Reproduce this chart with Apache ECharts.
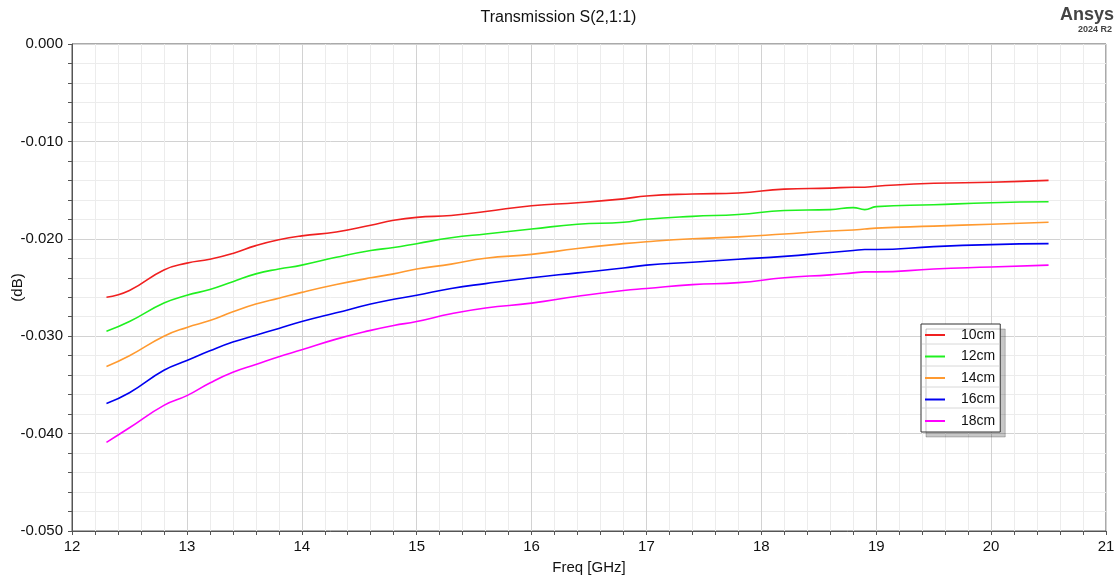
<!DOCTYPE html>
<html>
<head>
<meta charset="utf-8">
<script src="https://cdn.jsdelivr.net/npm/echarts@6/dist/echarts.min.js"></script>
<style>
  html, body { margin: 0; padding: 0; background: #fff; }
  #chart { width: 1117px; height: 578px; }
</style>
</head>
<body>
<div id="chart"></div>
<script>
// frequency points (GHz)
const freq = [12.3, 12.5, 12.8, 13.0, 13.2, 13.4, 13.6, 13.8, 14.0, 14.3, 14.6, 14.8, 15.0, 15.3, 15.6,
  16.0, 16.4, 16.8, 17.0, 17.4, 17.8, 18.2, 18.6, 18.8, 18.9, 19.0, 19.5, 20.0, 20.5]

const s10cm = [-0.0260, -0.0253, -0.0232, -0.0225, -0.0221, -0.0215, -0.0207, -0.0201, -0.0197, -0.0193, -0.0186, -0.0181, -0.0178, -0.0176, -0.0172,
  -0.0166, -0.0163, -0.0159, -0.0156, -0.0154, -0.0153, -0.0149, -0.0148, -0.0147, -0.0147, -0.0146, -0.0143, -0.0142, -0.0140]
const s12cm = [-0.0295, -0.0285, -0.0266, -0.0258, -0.0252, -0.0244, -0.0236, -0.0231, -0.0227, -0.0219, -0.0212, -0.0209, -0.0205, -0.0199, -0.0195,
  -0.0190, -0.0185, -0.0183, -0.0180, -0.0177, -0.0175, -0.0171, -0.0170, -0.0168, -0.0170, -0.0167, -0.0165, -0.0163, -0.0162]
const s14cm = [-0.0331, -0.0320, -0.0300, -0.0291, -0.0284, -0.0275, -0.0267, -0.0261, -0.0255, -0.0247, -0.0240, -0.0236, -0.0231, -0.0226, -0.0220,
  -0.0216, -0.0210, -0.0205, -0.0203, -0.0200, -0.0198, -0.0195, -0.0192, -0.0191, -0.0190, -0.0189, -0.0187, -0.0185, -0.0183]
const s16cm = [-0.0369, -0.0358, -0.0335, -0.0325, -0.0315, -0.0306, -0.0299, -0.0292, -0.0285, -0.0276, -0.0267, -0.0262, -0.0258, -0.0251, -0.0246,
  -0.0240, -0.0235, -0.0230, -0.0227, -0.0224, -0.0221, -0.0218, -0.0214, -0.0212, -0.0211, -0.0211, -0.0208, -0.0206, -0.0205]
const s18cm = [-0.0409, -0.0394, -0.0371, -0.0361, -0.0348, -0.0337, -0.0329, -0.0321, -0.0314, -0.0303, -0.0294, -0.0289, -0.0285, -0.0277, -0.0271,
  -0.0266, -0.0259, -0.0253, -0.0251, -0.0247, -0.0245, -0.0240, -0.0237, -0.0235, -0.0234, -0.0234, -0.0231, -0.0229, -0.0227]

const names = ['10cm', '12cm', '14cm', '16cm', '18cm']
const values = [s10cm, s12cm, s14cm, s16cm, s18cm]
const colors = ['#f02020', '#20f020', '#ff9a30', '#0000f0', '#ff00ff']

const font = '"Liberation Sans", Arial, sans-serif'
const chart = echarts.init(document.getElementById('chart'))

const series = names.map(function (n, i) {
  return {
    name: n,
    type: 'line',
    smooth: 0.5,
    symbol: 'none',
    lineStyle: { color: colors[i], width: 1.6 },
    itemStyle: { color: colors[i] },
    data: freq.map(function (f, j) { return [f, values[i][j]] })
  }
})

// separators between legend rows
const sepLines = [344, 366, 387, 408].map(function (y) {
  return {
    type: 'line',
    shape: { x1: 922, y1: y, x2: 999, y2: y },
    style: { stroke: '#d8d8d8', lineWidth: 1 },
    z: 120
  }
})

const axisCommon = {
  axisTick: { show: true, inside: false, length: 4, lineStyle: { color: '#555' } },
  minorTick: { show: true, splitNumber: 5, length: 4, lineStyle: { color: '#555' } },
  splitLine: { show: true, lineStyle: { color: '#d2d2d2', width: 1 } },
  minorSplitLine: { show: true, lineStyle: { color: '#ececec', width: 1 } }
}

const option = {
  animation: false,
  backgroundColor: '#fff',
  textStyle: { fontFamily: font },
  title: {
    text: 'Transmission S(2,1:1)',
    left: 'center',
    top: 5,
    textStyle: { fontSize: 16, fontWeight: 'normal', color: '#111', fontFamily: font }
  },
  grid: {
    left: 72, right: 11, top: 44, bottom: 47,
    outerBoundsMode: 'none',
    containLabel: false,
    show: true, borderColor: '#555', borderWidth: 1, backgroundColor: '#fff'
  },
  legend: {
    orient: 'vertical',
    left: 921,
    top: 324,
    padding: [4, 5, 4, 4],
    itemWidth: 20,
    itemHeight: 14,
    itemGap: 7.5,
    backgroundColor: '#fff',
    borderColor: '#333',
    borderWidth: 1,
    borderRadius: 0,
    shadowColor: 'rgba(0,0,0,0.22)',
    shadowBlur: 0,
    shadowOffsetX: 5,
    shadowOffsetY: 5,
    icon: 'path://M0,0 L20,0 L20,2 L0,2 Z',
    textStyle: { fontSize: 14, color: '#111', fontFamily: font, padding: [0, 0, 0, 11] },
    data: names
  },
  xAxis: Object.assign({
    type: 'value',
    min: 12, max: 21, interval: 1,
    name: 'Freq [GHz]',
    nameLocation: 'middle',
    nameGap: 29,
    nameMoveOverlap: false,
    nameTextStyle: { fontSize: 15, color: '#111', fontFamily: font },
    axisLine: { show: true, onZero: false, lineStyle: { color: '#555' } },
    axisLabel: { fontSize: 15, color: '#111', margin: 8, fontFamily: font }
  }, axisCommon),
  yAxis: Object.assign({
    type: 'value',
    min: -0.05, max: 0, interval: 0.01,
    name: '(dB)',
    nameLocation: 'middle',
    nameGap: 47,
    nameMoveOverlap: false,
    nameRotate: 90,
    nameTextStyle: { fontSize: 15, color: '#111', fontFamily: font },
    axisLine: { show: true, onZero: false, lineStyle: { color: '#555' } },
    axisLabel: {
      fontSize: 15, color: '#111', margin: 9, fontFamily: font,
      formatter: function (v) { return v.toFixed(3) }
    }
  }, axisCommon),
  graphic: [
    {
      type: 'text', right: 3, top: 6,
      style: { text: 'Ansys', font: 'bold 18px ' + font, fill: '#444' }
    },
    {
      type: 'text', right: 5, top: 25,
      style: { text: '2024 R2', font: 'bold 9px ' + font, fill: '#444' }
    }
  ].concat(sepLines),
  series: series
}

chart.setOption(option)
</script>
</body>
</html>
